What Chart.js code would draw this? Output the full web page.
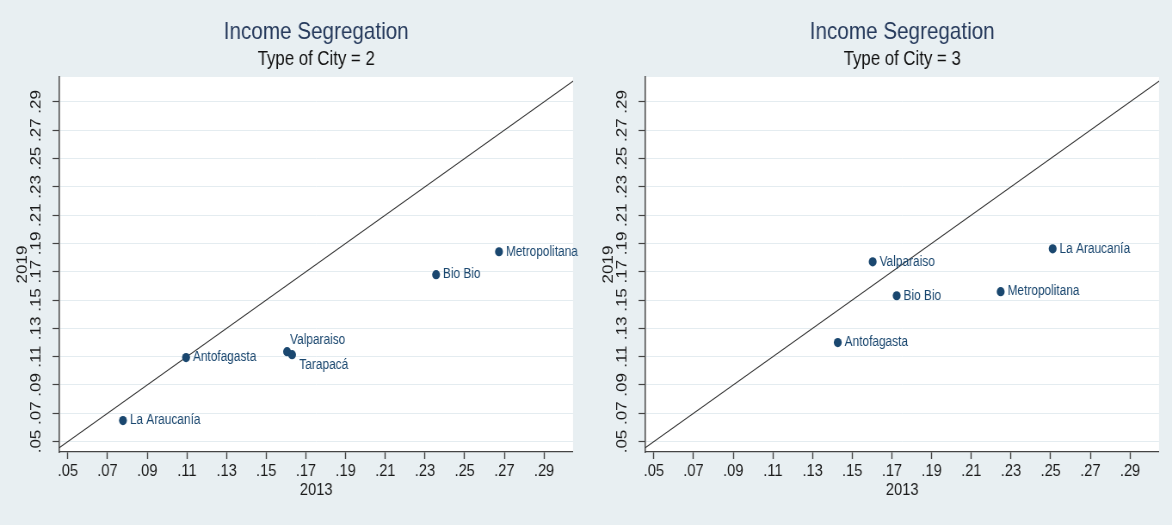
<!DOCTYPE html>
<html>
<head>
<meta charset="utf-8">
<script src="https://cdn.jsdelivr.net/npm/chart.js@4.4.1/dist/chart.umd.min.js"></script>
<style>
  html, body { margin: 0; padding: 0; background: #e8eff2; }
  #wrap { display: flex; width: 1172px; height: 525px; }
  /* the Stata export is squeezed horizontally: draw wider, show at 586px */
  canvas { display: block; width: 586px; height: 525px; }
</style>
</head>
<body>
<div id="wrap">
  <canvas id="chartType2" width="681" height="525" style="width:586px;height:525px"></canvas>
  <canvas id="chartType3" width="681" height="525" style="width:586px;height:525px"></canvas>
</div>
<script>
// chart texts
const chartTitle = 'Income Segregation'
const subtitleType2 = 'Type of City = 2'
const subtitleType3 = 'Type of City = 3'
const xAxisTitle = '2013'
const yAxisTitle = '2019'

// axis ticks (same on both axes)
const tickValues = [0.05, 0.07, 0.09, 0.11, 0.13, 0.15, 0.17, 0.19, 0.21, 0.23, 0.25, 0.27, 0.29]
const tickLabels = ['.05', '.07', '.09', '.11', '.13', '.15', '.17', '.19', '.21', '.23', '.25', '.27', '.29']
const xRange = [0.0458, 0.3046]
const yRange = [0.0426, 0.3076]

// 45 degree reference line y = x
const diagonal = [0.03, 0.32]

// Type of City = 2
const type2Regions = ['La Araucanía', 'Antofagasta', 'Valparaiso', 'Tarapacá', 'Bio Bio', 'Metropolitana']
const type2Seg2013 = [0.0778, 0.1096, 0.1605, 0.1630, 0.2356, 0.2673]
const type2Seg2019 = [0.0648, 0.1093, 0.1135, 0.1114, 0.1679, 0.1841]

// Type of City = 3
const type3Regions = ['Antofagasta', 'Valparaiso', 'Bio Bio', 'Metropolitana', 'La Araucanía']
const type3Seg2013 = [0.1427, 0.1603, 0.1724, 0.2248, 0.2510]
const type3Seg2019 = [0.1199, 0.1770, 0.1530, 0.1559, 0.1862]

const NAVY = '#1a476f'
const AXIS = '#444444'
const FONT = "'Liberation Sans', Arial, sans-serif"

Chart.defaults.font.family = FONT
Chart.defaults.font.weight = 'normal'

const plotBackground = {
  id: 'plotBackground',
  beforeDraw(chart) {
    const {ctx, chartArea: a} = chart
    ctx.save()
    ctx.fillStyle = '#ffffff'
    ctx.fillRect(a.left, a.top, a.right - a.left, a.bottom - a.top)
    ctx.restore()
  }
}

// marker labels, Stata style (to the right of the marker unless moved)
const markerLabels = {
  id: 'markerLabels',
  afterDatasetsDraw(chart, args, opts) {
    const {ctx} = chart
    const meta = chart.getDatasetMeta(0)
    ctx.save()
    ctx.font = '13.8px ' + FONT
    ctx.fillStyle = NAVY
    ctx.textAlign = 'left'
    ctx.textBaseline = 'middle'
    meta.data.forEach((pt, i) => {
      const name = opts.names[i]
      const off = opts.offsets[name] || [8, 0]
      ctx.fillText(name, pt.x + off[0], pt.y + off[1])
    })
    ctx.restore()
  }
}

function setTicks(axis) {
  axis.ticks = tickValues.map(v => ({value: v}))
}

function makePanel(canvasId, subtitle, names, xs, ys, offsets) {
  const points = xs.map((x, i) => ({x: x, y: ys[i]}))

  return new Chart(document.getElementById(canvasId), {
    type: 'scatter',
    data: {
      datasets: [
        {
          data: points,
          backgroundColor: NAVY,
          borderColor: NAVY,
          pointRadius: 4.6,
          pointHoverRadius: 4.6,
          borderWidth: 0
        },
        {
          data: [{x: diagonal[0], y: diagonal[0]}, {x: diagonal[1], y: diagonal[1]}],
          showLine: true,
          borderColor: '#333333',
          borderWidth: 1.1,
          pointRadius: 0
        }
      ]
    },
    options: {
      responsive: false,
      animation: false,
      devicePixelRatio: 1,
      layout: {padding: {left: 0, right: 15.1, top: 0, bottom: 0}},
      plugins: {
        legend: {display: false},
        tooltip: {enabled: false},
        title: {
          display: true,
          text: chartTitle,
          fullSize: false,
          color: '#263a5c',
          font: {size: 24, weight: 'normal'},
          padding: {top: 17.6, bottom: 0}
        },
        subtitle: {
          display: true,
          text: subtitle,
          fullSize: false,
          color: '#111111',
          font: {size: 19.5, weight: 'normal'},
          padding: {top: 1.9, bottom: 5.3}
        },
        markerLabels: {names: names, offsets: offsets}
      },
      scales: {
        x: {
          type: 'linear',
          min: xRange[0],
          max: xRange[1],
          afterBuildTicks: setTicks,
          afterFit(scale) { scale.height = 73 },
          ticks: {
            callback: (v, i) => tickLabels[i],
            autoSkip: false,
            maxRotation: 0,
            padding: 2,
            color: '#1a1a1a',
            font: {size: 17}
          },
          grid: {drawOnChartArea: false, tickLength: 7, tickColor: AXIS, tickWidth: 1.4},
          border: {color: AXIS, width: 1.3},
          title: {
            display: true,
            text: xAxisTitle,
            color: '#1a1a1a',
            font: {size: 17},
            padding: {top: 0, bottom: 24}
          }
        },
        y: {
          type: 'linear',
          min: yRange[0],
          max: yRange[1],
          afterBuildTicks: setTicks,
          afterFit(scale) { scale.width = 69.1 },
          ticks: {
            callback: (v, i) => tickLabels[i],
            autoSkip: false,
            minRotation: 90,
            maxRotation: 90,
            crossAlign: 'center',
            padding: 6.5,
            color: '#1a1a1a',
            font: {size: 17}
          },
          grid: {color: '#e4ecf0', lineWidth: 1, tickLength: 8, tickColor: AXIS, tickWidth: 1.2},
          border: {color: AXIS, width: 1.5},
          title: {
            display: true,
            text: yAxisTitle,
            color: '#1a1a1a',
            font: {size: 17},
            padding: {top: 16.5, bottom: 0}
          }
        }
      }
    },
    plugins: [plotBackground, markerLabels]
  })
}

makePanel('chartType2', subtitleType2, type2Regions, type2Seg2013, type2Seg2019, {
  'Valparaiso': [3.5, -11],
  'Tarapacá': [8.5, 11]
})

makePanel('chartType3', subtitleType3, type3Regions, type3Seg2013, type3Seg2019, {})
</script>
</body>
</html>
